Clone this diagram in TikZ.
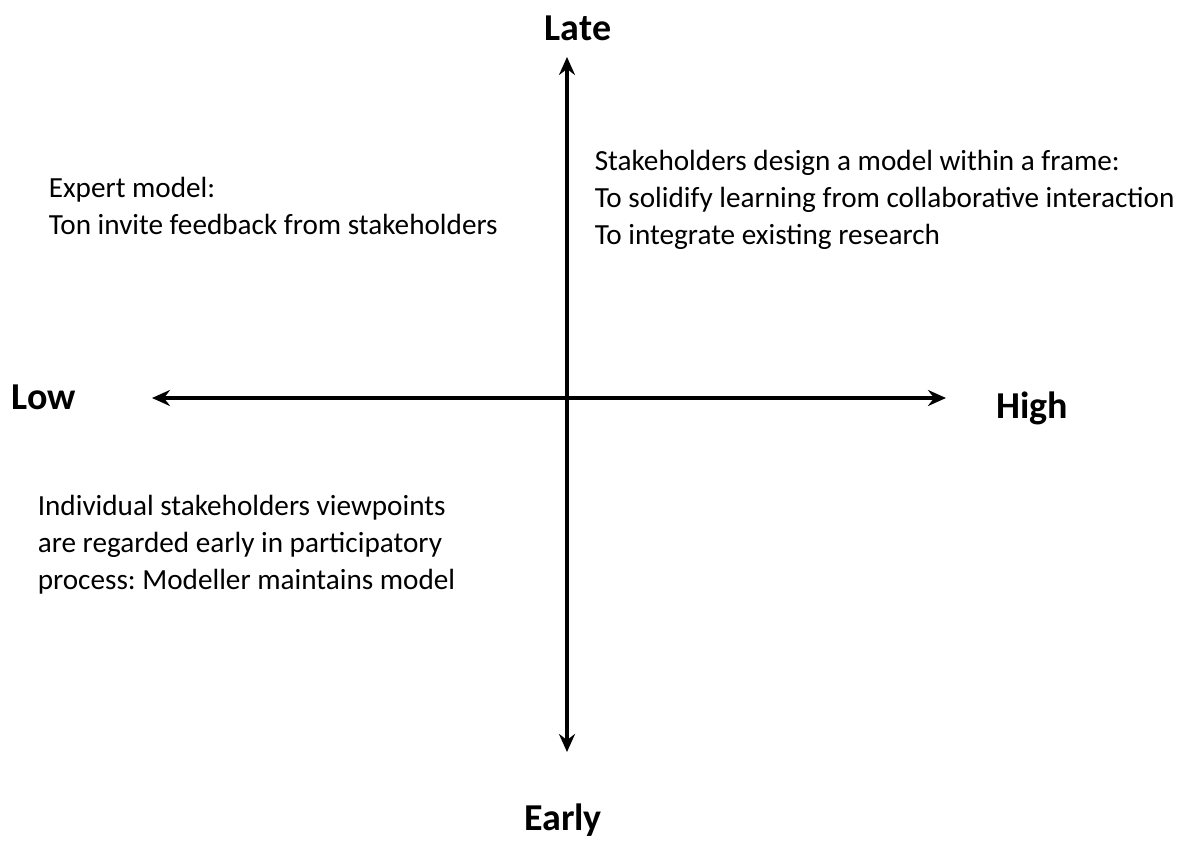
\documentclass[tikz,border=0pt]{standalone}
\usepackage{fontspec}
\setmainfont{Carlito}
\usetikzlibrary{arrows.meta}
\frenchspacing

\begin{document}
\begin{tikzpicture}[x=0.5pt, y=-0.5pt, thick,
	axis/.style={line width=1.6pt, {Stealth[length=9pt,width=8pt,inset=3pt]}-{Stealth[length=9pt,width=8pt,inset=3pt]}},
	axislabel/.style={font=\fontsize{19}{22}\selectfont\bfseries, inner sep=0pt},
	quadtext/.style={font=\fontsize{14.6}{18.5}\selectfont, align=left, anchor=west, inner sep=0pt}]
		\useasboundingbox (0,0) rectangle (1184,841);
		\coordinate (top) at (567,57);
		\coordinate (bottom) at (567,752);
		\coordinate (left) at (152,398);
		\coordinate (right) at (946,398);
		\node (late) at (578,28) [axislabel] {Late};
		\node (early) at (563,820) [axislabel] {Early};
		\node (low) at (44,397) [axislabel] {Low};
		\node (high) at (1032,408) [axislabel] {High};
		\node (expert) at (48,206) [quadtext] {Expert model:\\Ton invite feedback from stakeholders};
		\node (frame) at (594,200) [quadtext] {Stakeholders design a model within a frame:\\To solidify learning from collaborative interaction\\To integrate existing research};
		\node (individual) at (37,545) [quadtext] {Individual stakeholders viewpoints\\are regarded early in participatory\\process: Modeller maintains model};
		\draw[axis] (top) -- (bottom);
		\draw[axis] (left) -- (right);
\end{tikzpicture}
\end{document}
